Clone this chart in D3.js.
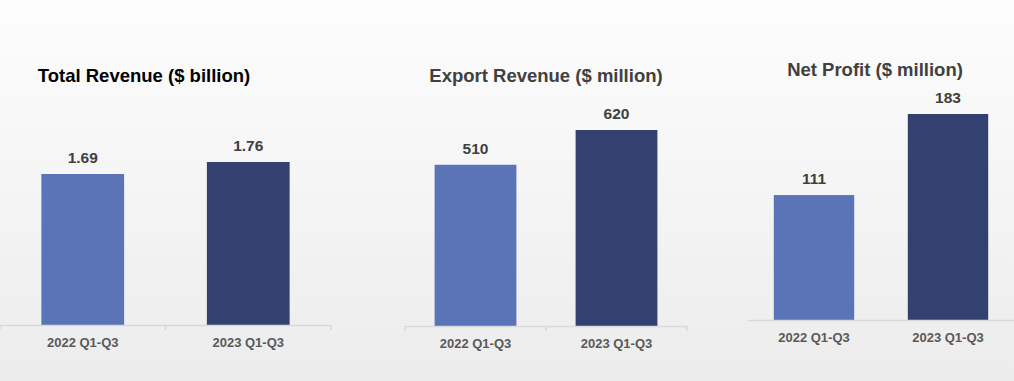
<!DOCTYPE html>
<html><head><meta charset="utf-8">
<script src="https://cdn.jsdelivr.net/npm/d3@7"></script>
<style>
html,body{margin:0;padding:0;overflow:hidden;}
svg{display:block;font-family:"Liberation Sans",Arial,sans-serif;}
</style></head>
<body>
<svg id="c" width="1014" height="381"></svg>
<script>
const categories = ["2022 Q1-Q3", "2023 Q1-Q3"];
const titles = ["Total Revenue ($ billion)", "Export Revenue ($ million)", "Net Profit ($ million)"];
const totalRevenue = [1.69, 1.76];
const exportRevenue = [510, 620];
const netProfit = [111, 183];
const valueLabels = [["1.69", "1.76"], ["510", "620"], ["111", "183"]];
const axisMins = [0.81, 0, 0];
const seriesValues = [totalRevenue, exportRevenue, netProfit];
const barColors = ["#5b73b7", "#324170"];

const layout = [
  {x0: 0, x1: 331, base: 325, top: 162, barFrac: 0.5, ticks: true, titleX: 144, titleY: 82, titleColor: "#000"},
  {x0: 405, x1: 687, base: 326, top: 130, barFrac: 0.58, ticks: true, titleX: 546, titleY: 82, titleColor: "#404040"},
  {x0: 747, x1: 1015, base: 320, top: 114, barFrac: 0.6, ticks: false, titleX: 875, titleY: 76, titleColor: "#404040"}
];

const svg = d3.select("#c");
const defs = svg.append("defs");
const grad = defs.append("linearGradient").attr("id","bg").attr("x1",0).attr("y1",0).attr("x2",0).attr("y2",1);
grad.append("stop").attr("offset","0%").attr("stop-color","#fdfdfd");
grad.append("stop").attr("offset","100%").attr("stop-color","#ececec");
svg.append("rect").attr("width",1014).attr("height",381).attr("fill","url(#bg)");

layout.forEach((L, i) => {
  const vals = seriesValues[i];
  const x = d3.scaleBand().domain(categories).range([L.x0, L.x1]).padding(0);
  const y = d3.scaleLinear().domain([axisMins[i], d3.max(vals)]).range([L.base, L.top]);
  const g = svg.append("g");
  const bw = x.bandwidth() * L.barFrac;

  g.selectAll("rect.bar").data(vals).join("rect")
    .attr("class","bar")
    .attr("x", (d, j) => x(categories[j]) + (x.bandwidth() - bw) / 2)
    .attr("width", bw)
    .attr("y", d => y(d))
    .attr("height", d => L.base - y(d))
    .attr("fill", (d, j) => barColors[j]);

  g.selectAll("text.val").data(vals).join("text")
    .attr("class","val")
    .attr("x", (d, j) => x(categories[j]) + x.bandwidth() / 2)
    .attr("y", d => y(d) - 11)
    .attr("text-anchor","middle")
    .attr("font-size", 15.5).attr("font-weight","bold").attr("fill","#404040")
    .text((d, j) => valueLabels[i][j]);

  const axis = d3.axisBottom(x).tickSize(L.ticks ? 5 : 0).tickSizeOuter(0).tickFormat("").tickPadding(0);
  const ag = g.append("g").attr("transform", `translate(0,${L.base})`).call(axis);
  ag.select(".domain").attr("stroke","#d9d9d9").attr("stroke-width",1.5);
  ag.selectAll(".tick").remove();
  if (L.ticks) {
    const tickXs = [L.x0, ...categories.slice(1).map(c => x(c)), L.x1];
    g.selectAll("line.tk").data(tickXs).join("line")
      .attr("x1", d => d).attr("x2", d => d)
      .attr("y1", L.base).attr("y2", L.base + 5)
      .attr("stroke","#d9d9d9").attr("stroke-width",1.5);
  }
  g.selectAll("text.cat").data(categories).join("text")
    .attr("class","cat")
    .attr("x", d => x(d) + x.bandwidth() / 2)
    .attr("y", L.base + 22)
    .attr("text-anchor","middle")
    .attr("font-size", 13).attr("font-weight","bold").attr("fill","#595959")
    .text(d => d);

  svg.append("text")
    .attr("x", L.titleX).attr("y", L.titleY)
    .attr("text-anchor","middle")
    .attr("font-size", 18.5).attr("font-weight","bold").attr("fill", L.titleColor)
    .text(titles[i]);
});
</script>
</body></html>
